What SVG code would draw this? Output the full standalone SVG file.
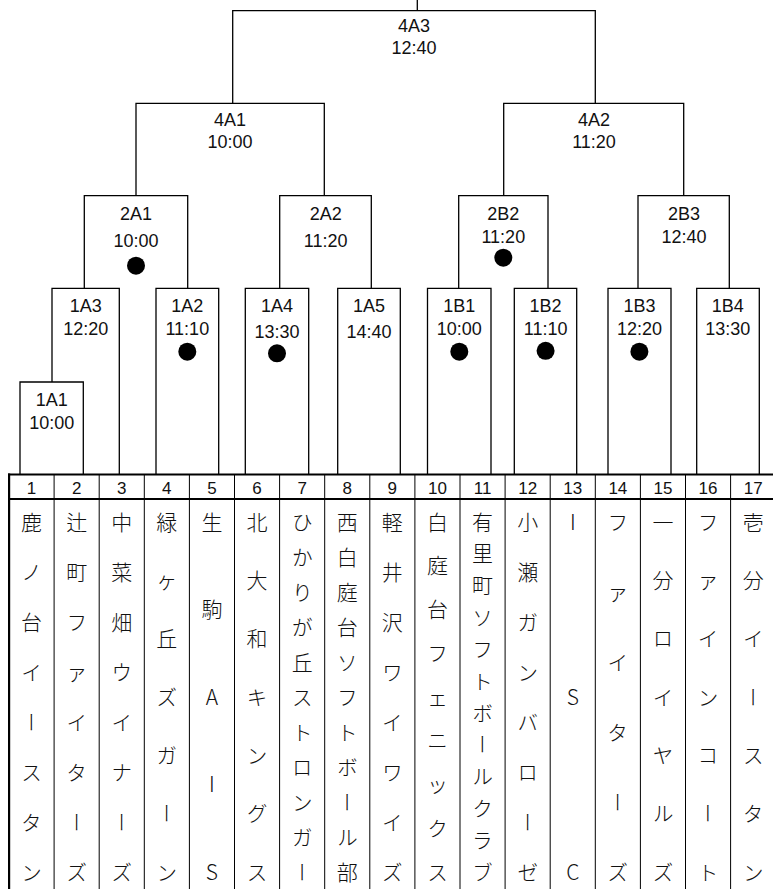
<svg xmlns="http://www.w3.org/2000/svg" width="773" height="889" viewBox="0 0 773 889">
<style>
.ln{fill:none;stroke:#000;stroke-width:1.3}
.lbl{font-family:"Liberation Sans",Arial,sans-serif;font-size:18px;fill:#111;text-anchor:middle}
.dot{fill:#000}
.num{font-family:"Liberation Sans",Arial,sans-serif;font-size:17px;fill:#111;text-anchor:middle}
.team{font-family:"Noto Sans CJK JP",sans-serif;font-size:21px;font-weight:300;fill:#111;text-anchor:middle;writing-mode:vertical-rl;text-orientation:upright}
.sk{font-feature-settings:"vert" 0}
.grid{stroke:#000;stroke-width:1}
.thick{stroke:#000;stroke-width:2.2}
</style>
<rect width="773" height="889" fill="#fff"/>
<g id="connectors">
<path class="ln" d="M417.3 0V10.7"/>
<path class="ln" d="M232.7 103.3V10.7H595.3V103.3"/>
<path class="ln" d="M136 195.7V103.3H324.3V195.7"/>
<path class="ln" d="M503.7 195.7V103.3H683.7V195.7"/>
<path class="ln" d="M84.3 288.3V195.7H187.7V288.3"/>
<path class="ln" d="M279.7 288.3V195.7H371.3V288.3"/>
<path class="ln" d="M458.7 288.3V195.7H548V288.3"/>
<path class="ln" d="M638 288.3V195.7H729.3V288.3"/>
<path class="ln" d="M52 382V288.3H119.3V474"/>
<path class="ln" d="M20 474V382H83.3V474"/>
<path class="ln" d="M156 474V288.3H218.7V474"/>
<path class="ln" d="M245.3 474V288.3H308.7V474"/>
<path class="ln" d="M337.7 474V288.3H400.3V474"/>
<path class="ln" d="M427.5 474V288.3H491V474"/>
<path class="ln" d="M514.3 474V288.3H576.7V474"/>
<path class="ln" d="M608 474V288.3H671V474"/>
<path class="ln" d="M696.7 474V288.3H759.3V474"/>
</g>
<g id="m4A3"><text class="lbl" x="414" y="32.3">4A3</text><text class="lbl" x="414" y="54.3">12:40</text></g>
<g id="m4A1"><text class="lbl" x="230" y="125.7">4A1</text><text class="lbl" x="230" y="147.7">10:00</text></g>
<g id="m4A2"><text class="lbl" x="594" y="125.7">4A2</text><text class="lbl" x="594" y="147.7">11:20</text></g>
<g id="m2A1"><text class="lbl" x="136" y="220">2A1</text><text class="lbl" x="136" y="246.7">10:00</text><circle class="dot" cx="136" cy="265.7" r="9"/></g>
<g id="m2A2"><text class="lbl" x="325.7" y="220">2A2</text><text class="lbl" x="325.7" y="246.7">11:20</text></g>
<g id="m2B2"><text class="lbl" x="503.3" y="220">2B2</text><text class="lbl" x="503.3" y="243.3">11:20</text><circle class="dot" cx="503.3" cy="257.7" r="9"/></g>
<g id="m2B3"><text class="lbl" x="684" y="220">2B3</text><text class="lbl" x="684" y="243.3">12:40</text></g>
<g id="m1A1"><text class="lbl" x="51.7" y="406">1A1</text><text class="lbl" x="51.7" y="429.3">10:00</text></g>
<g id="m1A3"><text class="lbl" x="85.7" y="311.7">1A3</text><text class="lbl" x="85.7" y="335">12:20</text></g>
<g id="m1A2"><text class="lbl" x="187.3" y="311.7">1A2</text><text class="lbl" x="187.3" y="335">11:10</text><circle class="dot" cx="187.3" cy="351.7" r="9"/></g>
<g id="m1A4"><text class="lbl" x="277" y="311.7">1A4</text><text class="lbl" x="277" y="338.3">13:30</text><circle class="dot" cx="277" cy="353.3" r="9"/></g>
<g id="m1A5"><text class="lbl" x="369" y="311.7">1A5</text><text class="lbl" x="369" y="338.3">14:40</text></g>
<g id="m1B1"><text class="lbl" x="459.3" y="312">1B1</text><text class="lbl" x="459.3" y="335">10:00</text><circle class="dot" cx="459.3" cy="351.7" r="9"/></g>
<g id="m1B2"><text class="lbl" x="545.6" y="312">1B2</text><text class="lbl" x="545.6" y="335">11:10</text><circle class="dot" cx="545.6" cy="350.8" r="9"/></g>
<g id="m1B3"><text class="lbl" x="639.4" y="312">1B3</text><text class="lbl" x="639.4" y="335">12:20</text><circle class="dot" cx="639.4" cy="351.7" r="9"/></g>
<g id="m1B4"><text class="lbl" x="727.8" y="312">1B4</text><text class="lbl" x="727.8" y="335">13:30</text></g>
<g id="table">
<g class="grid">
<line x1="54.1" y1="474" x2="54.1" y2="889"/><line x1="99.2" y1="474" x2="99.2" y2="889"/>
<line x1="144.3" y1="474" x2="144.3" y2="889"/><line x1="189.4" y1="474" x2="189.4" y2="889"/>
<line x1="234.5" y1="474" x2="234.5" y2="889"/><line x1="279.6" y1="474" x2="279.6" y2="889"/>
<line x1="324.7" y1="474" x2="324.7" y2="889"/><line x1="369.8" y1="474" x2="369.8" y2="889"/>
<line x1="414.9" y1="474" x2="414.9" y2="889"/><line x1="460" y1="474" x2="460" y2="889"/>
<line x1="505.1" y1="474" x2="505.1" y2="889"/><line x1="550.2" y1="474" x2="550.2" y2="889"/>
<line x1="595.3" y1="474" x2="595.3" y2="889"/><line x1="640.4" y1="474" x2="640.4" y2="889"/>
<line x1="685.5" y1="474" x2="685.5" y2="889"/><line x1="730.6" y1="474" x2="730.6" y2="889"/>
</g>
<g class="thick">
<line x1="8" y1="474.5" x2="773" y2="474.5"/>
<line x1="8" y1="499" x2="773" y2="499"/>
<line x1="9.1" y1="473.5" x2="9.1" y2="889"/>
</g>
<g id="numbers">
<text class="num" x="31.55" y="494">1</text><text class="num" x="76.65" y="494">2</text>
<text class="num" x="121.75" y="494">3</text><text class="num" x="166.85" y="494">4</text>
<text class="num" x="211.95" y="494">5</text><text class="num" x="257.05" y="494">6</text>
<text class="num" x="302.15" y="494">7</text><text class="num" x="347.25" y="494">8</text>
<text class="num" x="392.35" y="494">9</text><text class="num" x="437.45" y="494">10</text>
<text class="num" x="482.55" y="494">11</text><text class="num" x="527.65" y="494">12</text>
<text class="num" x="572.75" y="494">13</text><text class="num" x="617.85" y="494">14</text>
<text class="num" x="662.95" y="494">15</text><text class="num" x="708.05" y="494">16</text>
<text class="num" x="753.15" y="494">17</text>
</g>
</g>
<g id="teams">
<text id="t1" class="team" x="31.55" y="521.7 571.7 621.7 671.7 721.7 771.7 821.7 871.7">鹿ノ台イースタン</text>
<text id="t2" class="team" x="76.65" y="521.7 571.7 621.7 671.7 721.7 771.7 821.7 871.7">辻町フ<tspan class="sk">ァ</tspan>イターズ</text>
<text id="t3" class="team" x="121.75" y="521.7 571.7 621.7 671.7 721.7 771.7 821.7 871.7">中菜畑ウイナーズ</text>
<text id="t4" class="team" x="166.85" y="521.7 580 638.4 696.7 755 813.4 871.7">緑<tspan class="sk">ヶ</tspan>丘ズガーン</text>
<text id="t5" class="team" x="211.95" y="521.7 609.2 696.7 784.2 871.7">生駒AIS</text>
<text id="t6" class="team" x="257.05" y="521.7 580 638.4 696.7 755 813.4 871.7">北大和キングス</text>
<text id="t7" class="team" x="302.15" y="521.7 556.7 591.7 626.7 661.7 696.7 731.7 766.7 801.7 836.7 871.7">ひかりが丘ストロンガー</text>
<text id="t8" class="team" x="347.25" y="521.7 556.7 591.7 626.7 661.7 696.7 731.7 766.7 801.7 836.7 871.7">西白庭台ソフトボール部</text>
<text id="t9" class="team" x="392.35" y="521.7 571.7 621.7 671.7 721.7 771.7 821.7 871.7">軽井沢ワイワイズ</text>
<text id="t10" class="team" x="437.45" y="521.7 565.45 609.2 652.95 696.7 740.45 784.2 827.95 871.7">白庭台フ<tspan class="sk">ェ</tspan>ニ<tspan class="sk">ッ</tspan>クス</text>
<text id="t11" class="team" x="482.55" y="521.7 553.5 585.3 617.2 649 680.8 712.6 744.4 776.3 808.1 839.9 871.7">有里町ソフトボールクラブ</text>
<text id="t12" class="team" x="527.65" y="521.7 571.7 621.7 671.7 721.7 771.7 821.7 871.7">小瀬ガンバローゼ</text>
<text id="t13" class="team" x="572.75" y="521.7 696.7 871.7">ISC</text>
<text id="t14" class="team" x="617.85" y="521.7 591.7 661.7 731.7 801.7 871.7">フ<tspan class="sk">ァ</tspan>イターズ</text>
<text id="t15" class="team" x="662.95" y="521.7 580 638.4 696.7 755 813.4 871.7">一分ロイヤルズ</text>
<text id="t16" class="team" x="708.05" y="521.7 580 638.4 696.7 755 813.4 871.7">フ<tspan class="sk">ァ</tspan>インコート</text>
<text id="t17" class="team" x="753.15" y="521.7 580 638.4 696.7 755 813.4 871.7">壱分イースタン</text>
</g>
</svg>
